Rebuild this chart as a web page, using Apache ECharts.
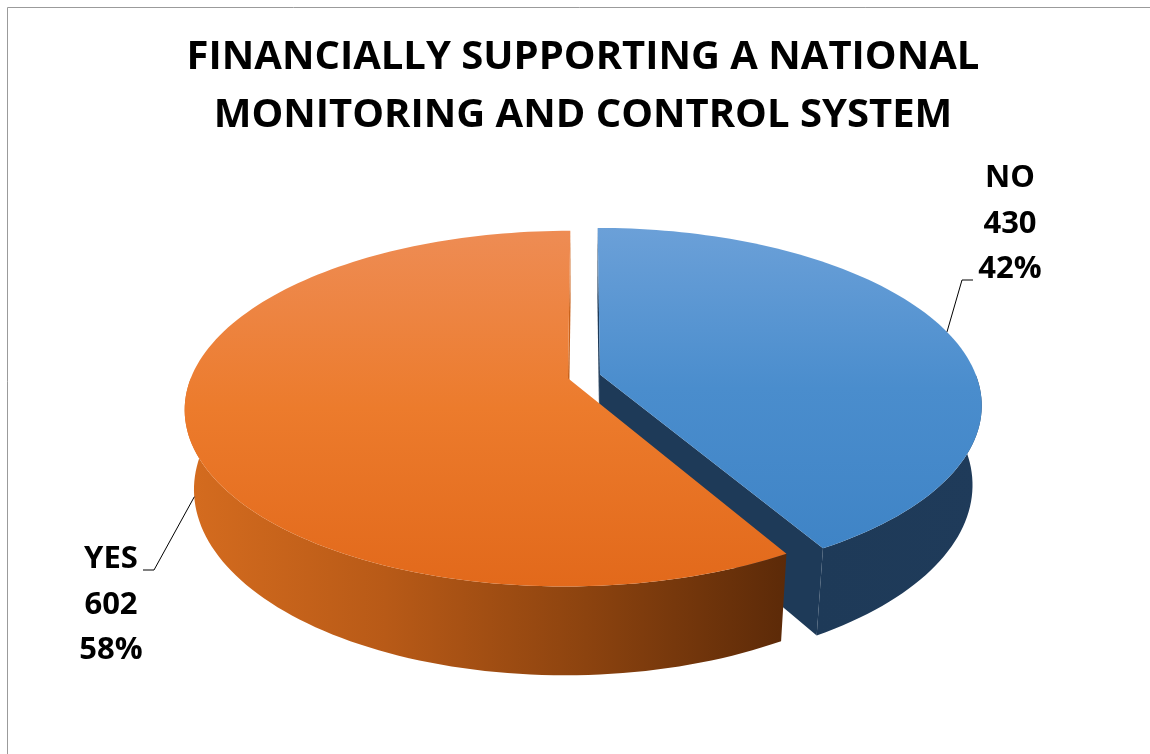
<!DOCTYPE html>
<html>
<head>
<meta charset="utf-8">
<script src="https://cdn.jsdelivr.net/npm/echarts@6/dist/echarts.min.js"></script>
<style>
  html, body { margin: 0; padding: 0; background: #ffffff; }
  #chart { width: 1150px; height: 754px; }
</style>
</head>
<body>
<div id="chart"></div>
<script>
// ---- data ----
const categories = ['NO', 'YES'];
const values = [430, 602];
const titleLines = ['FINANCIALLY SUPPORTING A NATIONAL', 'MONITORING AND CONTROL SYSTEM'];

// ---- look of the tilted pie ----
const topColors = [['#6ba0d8', '#4a8dcd', '#3f84c6'], ['#ee8c54', '#ec7b2c', '#e2691b']];
const wallColors = [['#1e3a58', '#1f3b5a'], ['#d56c1f', '#b85a17', '#8c430f', '#5c2a08']];
const cutColors = ['#1e3a58', '#c9621b'];

// camera / solid
const VIEW = {
  cx: 584, cy: 455, K: 368,      // screen centre and pixel scale
  R: 1, H: 0.24,                 // radius and thickness of the disc
  D: 5.238,                      // camera distance (perspective)
  tilt: 29.5 * Math.PI / 180,    // elevation of the view
  explode: 0.044                 // how far each slice is pulled out
};

// label placement: centre of the three-line block, elbow of the leader, leader end
const labelLayout = [
  { x: 1010, y: 224, elbow: [962, 280], end: [973, 280], anchorH: 1 },
  { x: 111, y: 605, elbow: [154, 570], end: [143, 570], anchorH: 0.12 }
];

const total = values.reduce((a, b) => a + b, 0);
const spans = [];
(function () {
  let acc = 0;
  values.forEach(v => {
    const a0 = acc / total * 360;
    acc += v;
    spans.push([a0, acc / total * 360]);
  });
})();

const SN = Math.sin(VIEW.tilt), CS = Math.cos(VIEW.tilt);
function rad(a) { return a * Math.PI / 180; }
// point on the disc: angle measured clockwise from the back, v positive toward the viewer
function rim(o, a, r) { return [o[0] + r * Math.sin(rad(a)), o[1] - r * Math.cos(rad(a))]; }
function depth(uv, h) { return uv[1] * CS + h * SN; }
function P(uv, h) {
  const s = VIEW.D / (VIEW.D - depth(uv, h));
  return [VIEW.cx + VIEW.K * uv[0] * s, VIEW.cy + VIEW.K * (uv[1] * SN - h * CS) * s];
}
function arc(o, a0, a1, h) {
  const n = Math.max(2, Math.ceil(Math.abs(a1 - a0) / 1.5));
  const pts = [];
  for (let i = 0; i <= n; i++) pts.push(P(rim(o, a0 + (a1 - a0) * i / n, VIEW.R), h));
  return pts;
}
function arcDepth(o, a0, a1) {
  let s = 0, n = 12;
  for (let i = 0; i <= n; i++) s += depth(rim(o, a0 + (a1 - a0) * i / n, VIEW.R), VIEW.H / 2);
  return s / (n + 1);
}
function area(pts) {
  let s = 0;
  for (let i = 0; i < pts.length; i++) {
    const p = pts[i], q = pts[(i + 1) % pts.length];
    s += p[0] * q[1] - q[0] * p[1];
  }
  return s;
}
function grad(x0, y0, x1, y1, colors) {
  return new echarts.graphic.LinearGradient(x0, y0, x1, y1,
    colors.map((c, i) => ({ offset: i / (colors.length - 1), color: c })));
}

function renderSlice(params, api) {
  const idx = params.dataIndex;
  const value = api.value(0);
  const [a0, a1] = spans[idx];
  const mid = (a0 + a1) / 2;
  const o = [VIEW.explode * Math.sin(rad(mid)), -VIEW.explode * Math.cos(rad(mid))];
  const H = VIEW.H;
  const children = [];

  // top face
  const topPts = [P(o, H)].concat(arc(o, a0, a1, H));
  children.push({
    type: 'polygon', z2: 1000,
    shape: { points: topPts },
    style: { fill: grad(0, 0, 0, 1, topColors[idx]), stroke: null }
  });

  // outer wall, front half only
  const lo = Math.max(a0, 90), hi = Math.min(a1, 270);
  if (hi > lo) {
    const wallPts = arc(o, lo, hi, H).concat(arc(o, hi, lo, 0));
    children.push({
      type: 'polygon', z2: 100 + arcDepth(o, lo, hi) * 50,
      shape: { points: wallPts },
      style: { fill: grad(0, 0, 1, 0, wallColors[idx]) }
    });
  }

  // the two cut faces; keep the ones facing the viewer
  [[a0, false], [a1, true]].forEach(([a, isEnd]) => {
    const e = rim(o, a, VIEW.R);
    let pts = [P(o, H), P(e, H), P(e, 0), P(o, 0)];
    if (isEnd) pts = pts.reverse();
    if (area(pts) < 0) {
      const d = (depth(o, H / 2) + depth(e, H / 2)) / 2;
      children.push({
        type: 'polygon', z2: 100 + d * 50,
        shape: { points: pts },
        style: { fill: cutColors[idx] }
      });
    }
  });

  // leader line and label
  const lay = labelLayout[idx];
  const anchor = P(rim(o, mid, VIEW.R), H * lay.anchorH);
  children.push({
    type: 'polyline', z2: 2000,
    shape: { points: [anchor, lay.elbow, lay.end] },
    style: { stroke: '#000000', lineWidth: 1, fill: null }
  });
  const pct = Math.round(value / total * 100) + '%';
  const lines = [categories[idx], String(value), pct];
  lines.forEach((t, i) => {
    children.push({
      type: 'text', z2: 2000,
      style: {
        text: t, x: lay.x, y: lay.y + (i - 1) * 45.5,
        fill: '#000000',
        font: 'bold 31px "Open Sans"',
        textAlign: 'center', textVerticalAlign: 'middle',
        align: 'center', verticalAlign: 'middle'
      }
    });
  });

  return { type: 'group', children: children };
}

const chart = echarts.init(document.getElementById('chart'), null, { renderer: 'canvas' });
chart.setOption({
  backgroundColor: '#ffffff',
  animation: false,
  graphic: [
    {
      type: 'rect', z: -1, silent: true,
      shape: { x: 7.5, y: 7.5, width: 1300, height: 900 },
      style: { fill: null, stroke: '#9b9b9b', lineWidth: 1 }
    }
  ].concat(titleLines.map((t, i) => ({
    type: 'text', silent: true,
    style: {
      text: t, x: 583, y: 58 + i * 58,
      fill: '#000000',
      font: 'bold 40px "Open Sans"',
      textAlign: 'center', textVerticalAlign: 'middle',
      align: 'center', verticalAlign: 'middle'
    }
  }))),
  series: [{
    type: 'custom',
    coordinateSystem: 'none',
    renderItem: renderSlice,
    data: values.map((v, i) => ({ name: categories[i], value: [v] }))
  }]
});
</script>
</body>
</html>
